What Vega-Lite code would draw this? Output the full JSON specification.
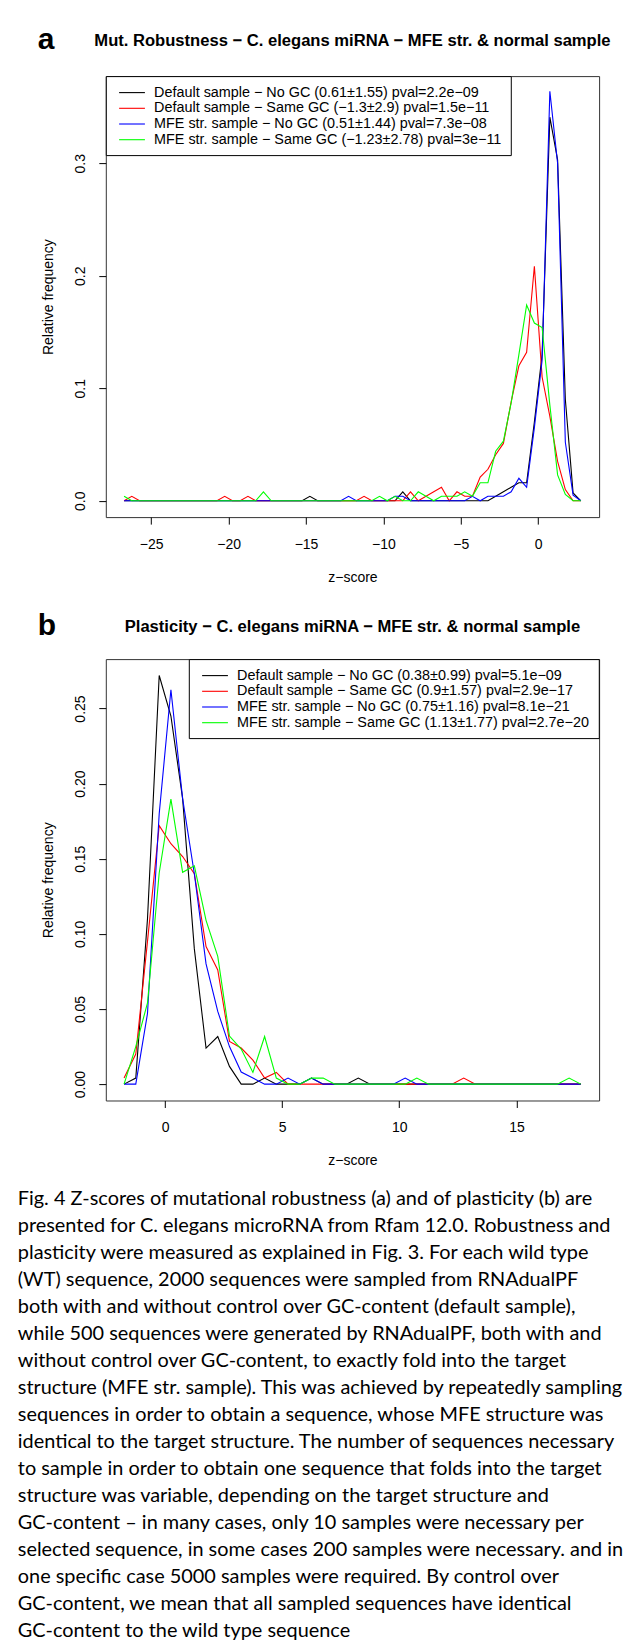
{
  "$schema": "https://vega.github.io/schema/vega-lite/v6.json",
  "background": "white",
  "padding": {"left": 17.8, "top": 25.1, "right": 5, "bottom": 2},
  "config": {
    "font": "Liberation Sans",
    "view": {"stroke": "#333333", "strokeWidth": 1},
    "axis": {"grid": false, "domain": false, "tickColor": "black", "tickSize": 7, "tickWidth": 1, "labelFont": "Liberation Sans", "labelFontSize": 14, "labelColor": "black", "titleFont": "Liberation Sans", "titleFontSize": 14, "titleFontWeight": "normal", "titleColor": "black"},
    "axisX": {"labelPadding": 13, "titlePadding": 19.5},
    "axisY": {"labelAngle": 270, "labelAlign": "center", "labelBaseline": "alphabetic", "labelPadding": 14, "titlePadding": 18.5},
    "legend": {"offset": 0, "padding": 9, "strokeColor": "black", "fillColor": "white", "symbolType": "M-0.49,0H3.48", "symbolSize": 169, "symbolStrokeWidth": 1.1, "labelFont": "Liberation Sans", "labelFontSize": 14.4, "labelColor": "black", "labelOffset": 24.3, "rowPadding": 0.7, "labelLimit": 1000, "title": null}
  },
  "datasets": {
    "a": [
      {"z": -26.75, "k": 0, "r": 0, "b": 0, "g": 0.004},
      {"z": -26.25, "k": 0, "r": 0.004, "b": 0, "g": 0},
      {"z": -25.75, "k": 0, "r": 0, "b": 0, "g": 0},
      {"z": -25.25, "k": 0, "r": 0, "b": 0, "g": 0},
      {"z": -24.75, "k": 0, "r": 0, "b": 0, "g": 0},
      {"z": -24.25, "k": 0, "r": 0, "b": 0, "g": 0},
      {"z": -23.75, "k": 0, "r": 0, "b": 0, "g": 0},
      {"z": -23.25, "k": 0, "r": 0, "b": 0, "g": 0},
      {"z": -22.75, "k": 0, "r": 0, "b": 0, "g": 0},
      {"z": -22.25, "k": 0, "r": 0, "b": 0, "g": 0},
      {"z": -21.75, "k": 0, "r": 0, "b": 0, "g": 0},
      {"z": -21.25, "k": 0, "r": 0, "b": 0, "g": 0},
      {"z": -20.75, "k": 0, "r": 0, "b": 0, "g": 0},
      {"z": -20.25, "k": 0, "r": 0.004, "b": 0, "g": 0},
      {"z": -19.75, "k": 0, "r": 0, "b": 0, "g": 0},
      {"z": -19.25, "k": 0, "r": 0, "b": 0, "g": 0},
      {"z": -18.75, "k": 0, "r": 0.004, "b": 0, "g": 0},
      {"z": -18.25, "k": 0, "r": 0, "b": 0, "g": 0},
      {"z": -17.75, "k": 0, "r": 0, "b": 0, "g": 0.008},
      {"z": -17.25, "k": 0, "r": 0, "b": 0, "g": 0},
      {"z": -16.75, "k": 0, "r": 0, "b": 0, "g": 0},
      {"z": -16.25, "k": 0, "r": 0, "b": 0, "g": 0},
      {"z": -15.75, "k": 0, "r": 0, "b": 0, "g": 0},
      {"z": -15.25, "k": 0, "r": 0, "b": 0, "g": 0},
      {"z": -14.75, "k": 0.004, "r": 0, "b": 0, "g": 0},
      {"z": -14.25, "k": 0, "r": 0, "b": 0, "g": 0},
      {"z": -13.75, "k": 0, "r": 0, "b": 0, "g": 0},
      {"z": -13.25, "k": 0, "r": 0, "b": 0, "g": 0},
      {"z": -12.75, "k": 0, "r": 0, "b": 0, "g": 0},
      {"z": -12.25, "k": 0, "r": 0, "b": 0.004, "g": 0},
      {"z": -11.75, "k": 0, "r": 0, "b": 0, "g": 0},
      {"z": -11.25, "k": 0, "r": 0.004, "b": 0, "g": 0},
      {"z": -10.75, "k": 0, "r": 0, "b": 0, "g": 0},
      {"z": -10.25, "k": 0, "r": 0, "b": 0, "g": 0.004},
      {"z": -9.75, "k": 0, "r": 0, "b": 0, "g": 0},
      {"z": -9.25, "k": 0, "r": 0, "b": 0.004, "g": 0.004},
      {"z": -8.75, "k": 0.008, "r": 0, "b": 0.004, "g": 0},
      {"z": -8.25, "k": 0, "r": 0.008, "b": 0, "g": 0},
      {"z": -7.75, "k": 0, "r": 0, "b": 0, "g": 0.008},
      {"z": -7.25, "k": 0, "r": 0.004, "b": 0, "g": 0.004},
      {"z": -6.75, "k": 0, "r": 0.008, "b": 0, "g": 0},
      {"z": -6.25, "k": 0, "r": 0.012, "b": 0, "g": 0.004},
      {"z": -5.75, "k": 0, "r": 0, "b": 0, "g": 0.004},
      {"z": -5.25, "k": 0, "r": 0.008, "b": 0, "g": 0.004},
      {"z": -4.75, "k": 0, "r": 0.004, "b": 0, "g": 0.008},
      {"z": -4.25, "k": 0, "r": 0.004, "b": 0.004, "g": 0.004},
      {"z": -3.75, "k": 0, "r": 0.021, "b": 0, "g": 0.016},
      {"z": -3.25, "k": 0, "r": 0.028, "b": 0.004, "g": 0.016},
      {"z": -2.75, "k": 0.004, "r": 0.041, "b": 0.004, "g": 0.044},
      {"z": -2.25, "k": 0.008, "r": 0.051, "b": 0.004, "g": 0.053},
      {"z": -1.75, "k": 0.012, "r": 0.088, "b": 0.008, "g": 0.087},
      {"z": -1.25, "k": 0.016, "r": 0.12, "b": 0.02, "g": 0.13},
      {"z": -0.75, "k": 0.016, "r": 0.132, "b": 0.012, "g": 0.174},
      {"z": -0.25, "k": 0.07, "r": 0.2085, "b": 0.065, "g": 0.158},
      {"z": 0.25, "k": 0.13, "r": 0.11, "b": 0.125, "g": 0.154},
      {"z": 0.75, "k": 0.341, "r": 0.075, "b": 0.364, "g": 0.085},
      {"z": 1.25, "k": 0.303, "r": 0.035, "b": 0.3, "g": 0.023},
      {"z": 1.75, "k": 0.09, "r": 0.01, "b": 0.052, "g": 0.0056},
      {"z": 2.25, "k": 0.007, "r": 0, "b": 0.005, "g": 0},
      {"z": 2.75, "k": 0, "r": 0, "b": 0, "g": 0}
    ],
    "b": [
      {"z": -1.75, "k": 0, "r": 0.004, "b": 0, "g": 0},
      {"z": -1.25, "k": 0.004, "r": 0.02, "b": 0, "g": 0.025},
      {"z": -0.75, "k": 0.11, "r": 0.095, "b": 0.047, "g": 0.054},
      {"z": -0.25, "k": 0.272, "r": 0.172, "b": 0.18, "g": 0.1405},
      {"z": 0.25, "k": 0.245, "r": 0.16, "b": 0.2625, "g": 0.1897},
      {"z": 0.75, "k": 0.19, "r": 0.1515, "b": 0.19, "g": 0.141},
      {"z": 1.25, "k": 0.09, "r": 0.14, "b": 0.14, "g": 0.1453},
      {"z": 1.75, "k": 0.024, "r": 0.0916, "b": 0.08, "g": 0.109},
      {"z": 2.25, "k": 0.0317, "r": 0.076, "b": 0.0484, "g": 0.085},
      {"z": 2.75, "k": 0.0118, "r": 0.0284, "b": 0.025, "g": 0.032},
      {"z": 3.25, "k": 0, "r": 0.024, "b": 0.008, "g": 0.0233},
      {"z": 3.75, "k": 0, "r": 0.016, "b": 0.004, "g": 0.0078},
      {"z": 4.25, "k": 0.004, "r": 0.004, "b": 0, "g": 0.0317},
      {"z": 4.75, "k": 0, "r": 0.0078, "b": 0, "g": 0.004},
      {"z": 5.25, "k": 0, "r": 0, "b": 0.004, "g": 0},
      {"z": 5.75, "k": 0, "r": 0, "b": 0, "g": 0},
      {"z": 6.25, "k": 0.004, "r": 0, "b": 0.004, "g": 0.004},
      {"z": 6.75, "k": 0, "r": 0, "b": 0, "g": 0.004},
      {"z": 7.25, "k": 0, "r": 0, "b": 0, "g": 0},
      {"z": 7.75, "k": 0, "r": 0, "b": 0, "g": 0},
      {"z": 8.25, "k": 0.004, "r": 0, "b": 0, "g": 0},
      {"z": 8.75, "k": 0, "r": 0, "b": 0, "g": 0},
      {"z": 9.25, "k": 0, "r": 0, "b": 0, "g": 0},
      {"z": 9.75, "k": 0, "r": 0, "b": 0, "g": 0},
      {"z": 10.25, "k": 0, "r": 0, "b": 0.004, "g": 0},
      {"z": 10.75, "k": 0, "r": 0, "b": 0, "g": 0.004},
      {"z": 11.25, "k": 0, "r": 0, "b": 0, "g": 0},
      {"z": 11.75, "k": 0, "r": 0, "b": 0, "g": 0},
      {"z": 12.25, "k": 0, "r": 0, "b": 0, "g": 0},
      {"z": 12.75, "k": 0, "r": 0.004, "b": 0, "g": 0},
      {"z": 13.25, "k": 0, "r": 0, "b": 0, "g": 0},
      {"z": 13.75, "k": 0, "r": 0, "b": 0, "g": 0},
      {"z": 14.25, "k": 0, "r": 0, "b": 0, "g": 0},
      {"z": 14.75, "k": 0, "r": 0, "b": 0, "g": 0},
      {"z": 15.25, "k": 0, "r": 0, "b": 0, "g": 0},
      {"z": 15.75, "k": 0, "r": 0, "b": 0, "g": 0},
      {"z": 16.25, "k": 0, "r": 0, "b": 0, "g": 0},
      {"z": 16.75, "k": 0, "r": 0, "b": 0, "g": 0},
      {"z": 17.25, "k": 0, "r": 0, "b": 0, "g": 0.004},
      {"z": 17.75, "k": 0, "r": 0, "b": 0, "g": 0}
    ]
  },
  "title": {
    "text": [
      "Fig. 4 Z-scores of mutational robustness (a) and of plasticity (b) are",
      "presented for C. elegans microRNA from Rfam 12.0. Robustness and",
      "plasticity were measured as explained in Fig. 3. For each wild type",
      "(WT) sequence, 2000 sequences were sampled from RNAdualPF",
      "both with and without control over GC-content (default sample),",
      "while 500 sequences were generated by RNAdualPF, both with and",
      "without control over GC-content, to exactly fold into the target",
      "structure (MFE str. sample). This was achieved by repeatedly sampling",
      "sequences in order to obtain a sequence, whose MFE structure was",
      "identical to the target structure. The number of sequences necessary",
      "to sample in order to obtain one sequence that folds into the target",
      "structure was variable, depending on the target structure and",
      "GC-content – in many cases, only 10 samples were necessary per",
      "selected sequence, in some cases 200 samples were necessary. and in",
      "one specific case 5000 samples were required. By control over",
      "GC-content, we mean that all sampled sequences have identical",
      "GC-content to the wild type sequence"
    ],
    "orient": "bottom", "anchor": "start", "frame": "bounds", "align": "left",
    "font": "Lato", "fontSize": 19.9, "fontWeight": "normal", "lineHeight": 27,
    "color": "black", "offset": 20.4, "dx": -20
  },
  "spacing": 26,
  "resolve": {"scale": {"color": "independent"}, "legend": {"color": "independent"}},
  "vconcat": [
    {
      "title": {"text": "a", "anchor": "start", "frame": "bounds", "font": "Liberation Sans", "fontSize": 30, "fontWeight": "bold", "color": "black", "offset": -22.8, "dx": -3},
      "resolve": {"scale": {"color": "independent"}, "legend": {"color": "independent"}},
      "vconcat": [
        {
          "width": 493.3,
          "height": 441,
          "title": {"text": "Mut. Robustness − C. elegans miRNA − MFE str. & normal sample", "anchor": "middle", "frame": "group", "font": "Liberation Sans", "fontSize": 16.6, "fontWeight": "bold", "color": "black", "offset": 26},
          "data": {"name": "a"},
          "transform": [{"fold": ["k", "r", "b", "g"], "as": ["s", "f"]}],
          "encoding": {
            "x": {"field": "z", "type": "quantitative", "scale": {"domain": [-27.93, 3.93], "nice": false, "zero": false}, "axis": {"values": [-25, -20, -15, -10, -5, 0], "title": "z−score"}},
            "y": {"field": "f", "type": "quantitative", "scale": {"domain": [-0.0145, 0.3775], "nice": false, "zero": false}, "axis": {"values": [0, 0.1, 0.2, 0.3], "format": ".1f", "title": "Relative frequency"}},
            "color": {"field": "s", "type": "nominal", "scale": {"domain": ["k", "r", "b", "g"], "range": ["#000000", "#ff0000", "#0000ff", "#00ff00"]},
              "legend": {"orient": "top-left", "labelExpr": "datum.label == 'k' ? 'Default sample − No GC (0.61±1.55) pval=2.2e−09' : datum.label == 'r' ? 'Default sample − Same GC (−1.3±2.9) pval=1.5e−11' : datum.label == 'b' ? 'MFE str. sample − No GC (0.51±1.44) pval=7.3e−08' : 'MFE str. sample − Same GC (−1.23±2.78) pval=3e−11'"}}
          },
          "layer": [
            {"transform": [{"filter": "datum.s == 'k'"}], "mark": {"type": "line", "strokeWidth": 1.1}},
            {"transform": [{"filter": "datum.s == 'r'"}], "mark": {"type": "line", "strokeWidth": 1.1}},
            {"transform": [{"filter": "datum.s == 'b'"}], "mark": {"type": "line", "strokeWidth": 1.1}},
            {"transform": [{"filter": "datum.s == 'g'"}], "mark": {"type": "line", "strokeWidth": 1.1}}
          ]
        }
      ]
    },
    {
      "title": {"text": "b", "anchor": "start", "frame": "bounds", "font": "Liberation Sans", "fontSize": 30, "fontWeight": "bold", "color": "black", "offset": -22.8, "dx": -3},
      "resolve": {"scale": {"color": "independent"}, "legend": {"color": "independent"}},
      "vconcat": [
        {
          "width": 493.3,
          "height": 441.4,
          "title": {"text": "Plasticity − C. elegans miRNA − MFE str. & normal sample", "anchor": "middle", "frame": "group", "font": "Liberation Sans", "fontSize": 16.6, "fontWeight": "bold", "color": "black", "offset": 23},
          "data": {"name": "b"},
          "transform": [{"fold": ["k", "r", "b", "g"], "as": ["s", "f"]}],
          "encoding": {
            "x": {"field": "z", "type": "quantitative", "scale": {"domain": [-2.53, 18.53], "nice": false, "zero": false}, "axis": {"values": [0, 5, 10, 15], "title": "z−score"}},
            "y": {"field": "f", "type": "quantitative", "scale": {"domain": [-0.0109, 0.2829], "nice": false, "zero": false}, "axis": {"values": [0, 0.05, 0.1, 0.15, 0.2, 0.25], "format": ".2f", "title": "Relative frequency"}},
            "color": {"field": "s", "type": "nominal", "scale": {"domain": ["k", "r", "b", "g"], "range": ["#000000", "#ff0000", "#0000ff", "#00ff00"]},
              "legend": {"orient": "top-right", "labelExpr": "datum.label == 'k' ? 'Default sample − No GC (0.38±0.99) pval=5.1e−09' : datum.label == 'r' ? 'Default sample − Same GC (0.9±1.57) pval=2.9e−17' : datum.label == 'b' ? 'MFE str. sample − No GC (0.75±1.16) pval=8.1e−21' : 'MFE str. sample − Same GC (1.13±1.77) pval=2.7e−20'"}}
          },
          "layer": [
            {"transform": [{"filter": "datum.s == 'k'"}], "mark": {"type": "line", "strokeWidth": 1.1}},
            {"transform": [{"filter": "datum.s == 'r'"}], "mark": {"type": "line", "strokeWidth": 1.1}},
            {"transform": [{"filter": "datum.s == 'b'"}], "mark": {"type": "line", "strokeWidth": 1.1}},
            {"transform": [{"filter": "datum.s == 'g'"}], "mark": {"type": "line", "strokeWidth": 1.1}}
          ]
        }
      ]
    }
  ]
}
